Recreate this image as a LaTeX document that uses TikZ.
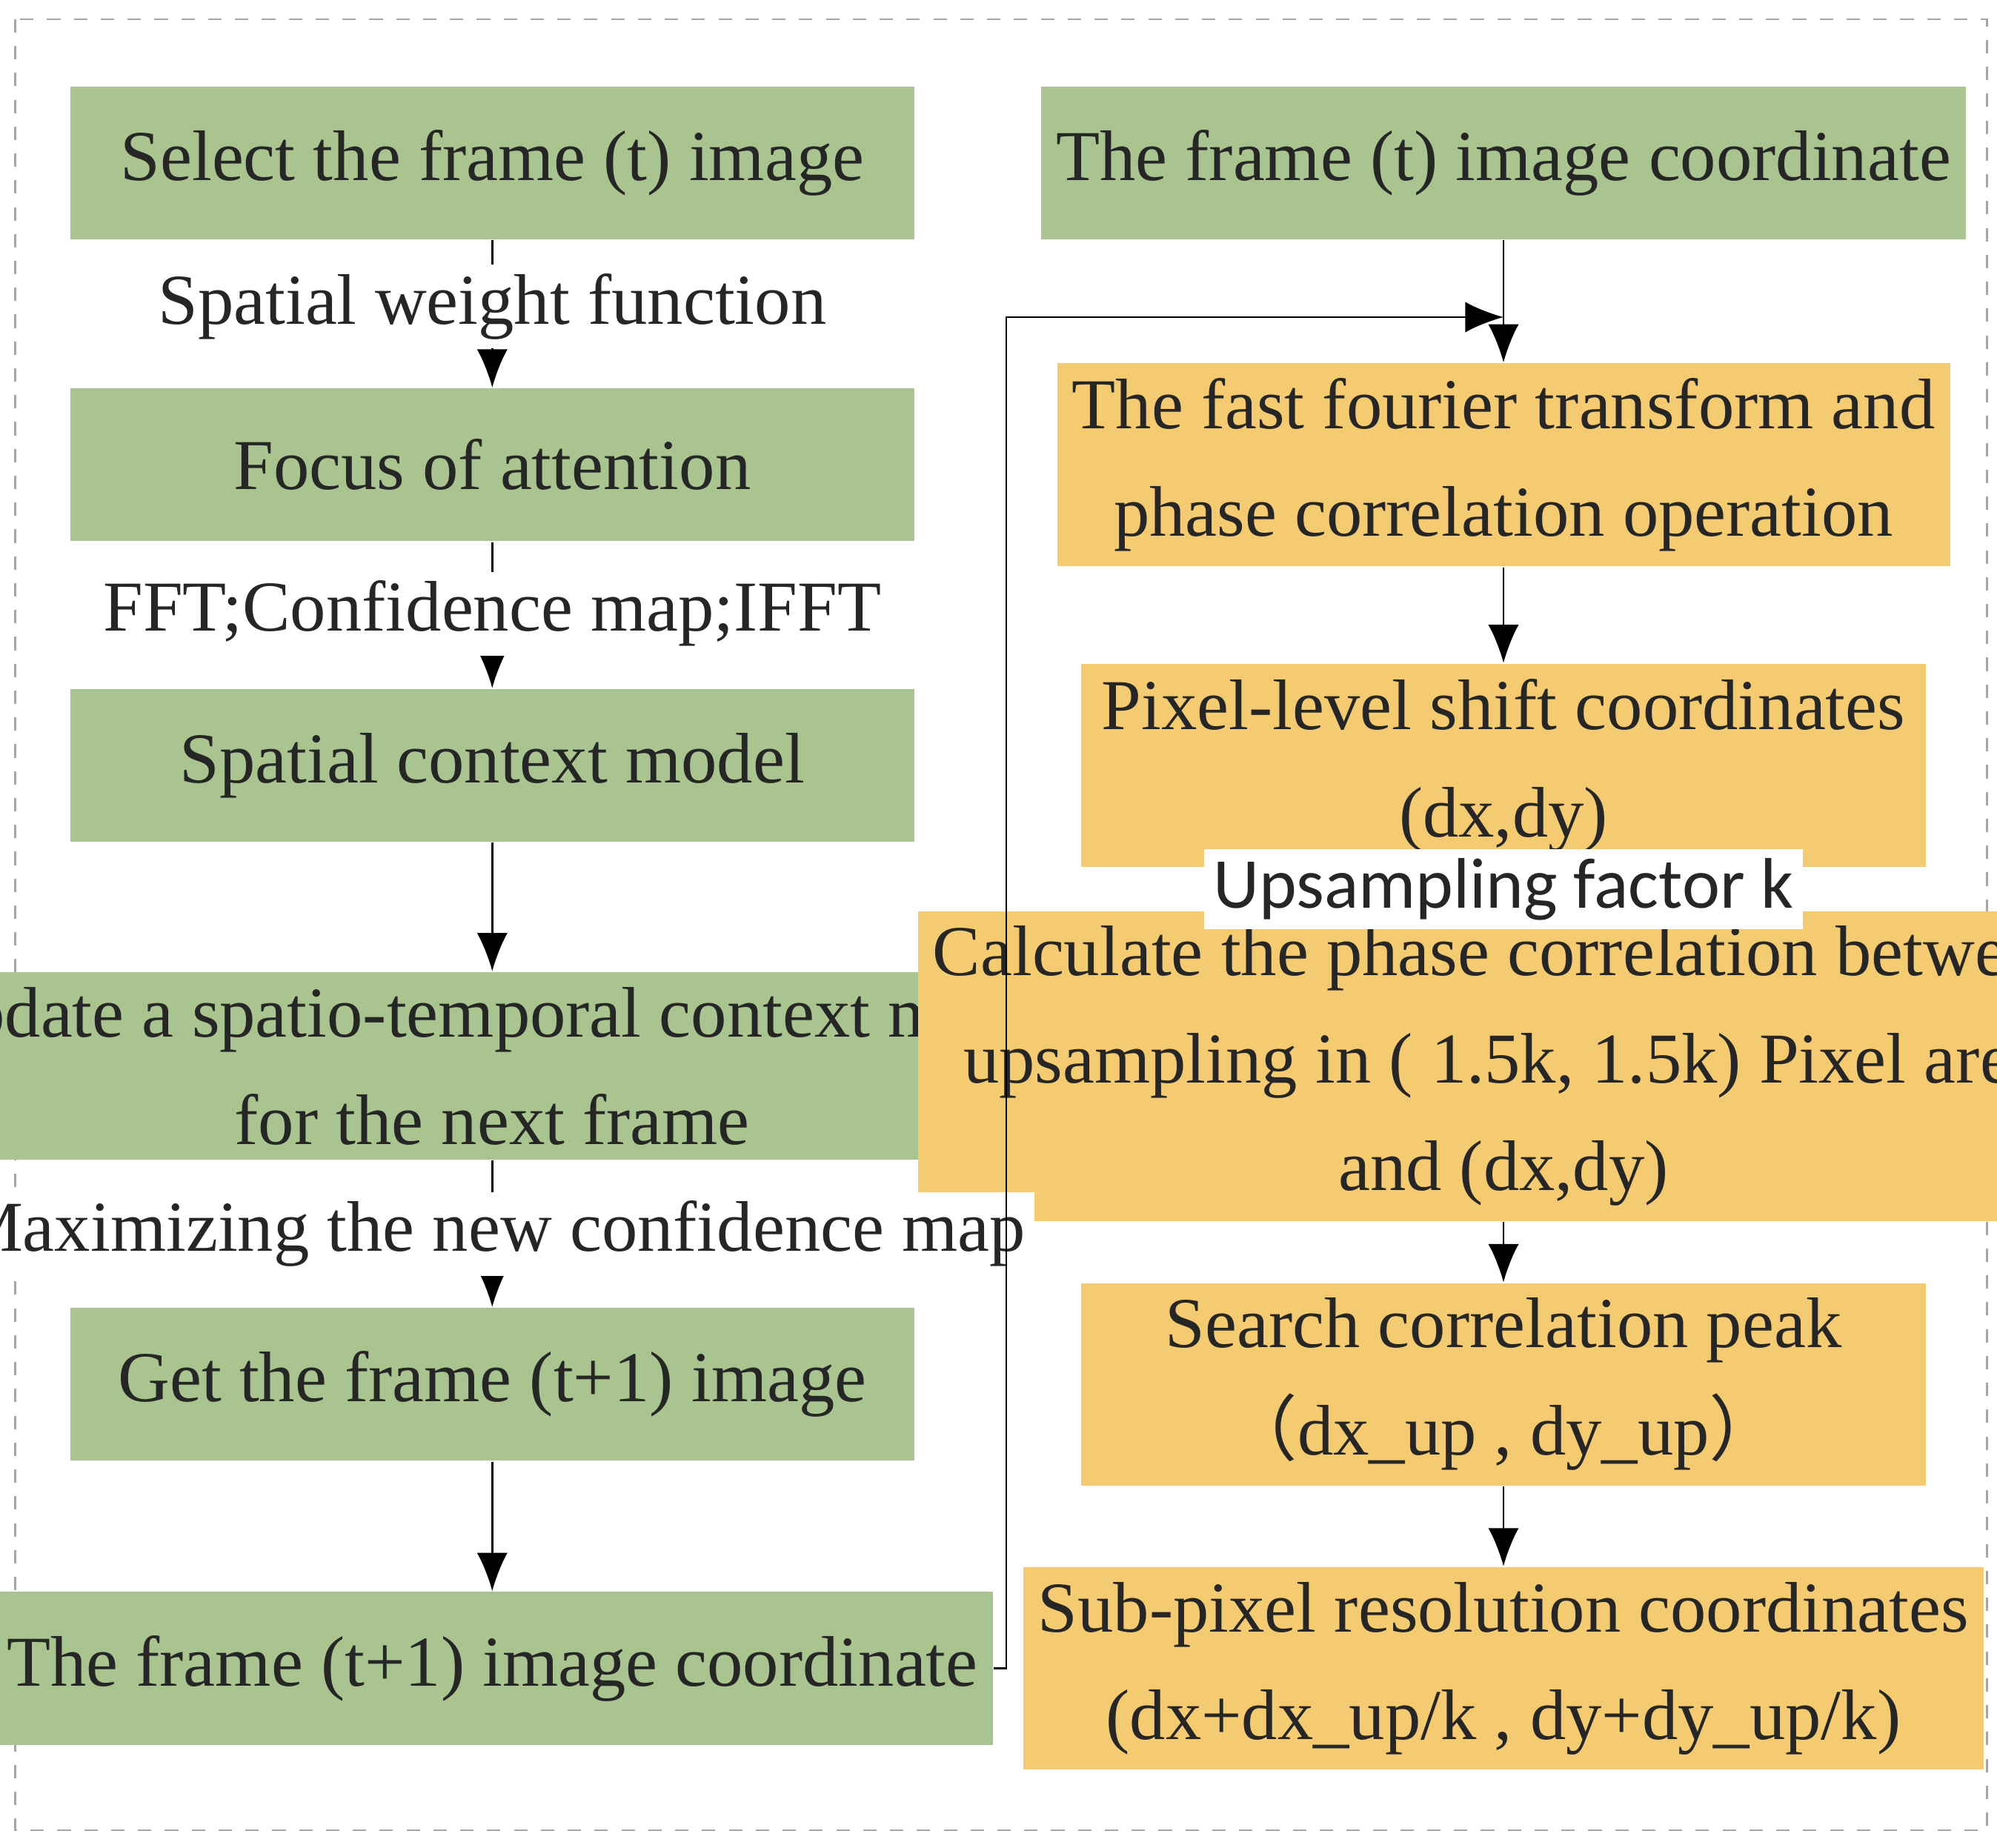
\documentclass[tikz,border=0pt]{standalone}
\usepackage{fontspec}
\setmainfont{Liberation Serif}
\newfontfamily\lblsans{Carlito}
\newfontfamily\cjkfont{Noto Sans CJK SC}
\usetikzlibrary{positioning,arrows.meta}
\definecolor{boxgreen}{HTML}{A9C48F}
\definecolor{boxorange}{HTML}{F5CB72}
\definecolor{txt}{HTML}{262626}

\begin{document}
\begin{tikzpicture}[
x=1cm,y=-1cm,
stepbox/.style={
  draw=none,
  minimum width=6.63cm,
  minimum height=1.2cm,
  align=center,
  text=txt,
  font=\fontsize{16}{24}\selectfont
  },
gbox/.style={stepbox,fill=boxgreen},
obox/.style={stepbox,fill=boxorange},
lbl/.style={fill=white,text=txt,inner sep=2pt,font=\fontsize{16}{19}\selectfont},
>={Latex[length=3mm,width=2.4mm]}
]
\useasboundingbox (0,0) rectangle (15.68,14.51);
\draw[gray!70,dashed] (0.12,0.15) rectangle (15.6,14.37);

% left column
\node[gbox] (sel) at (3.865,1.28) {Select the frame (t) image};
\node[gbox] (foc) at (3.865,3.65) {Focus of attention};
\node[gbox] (ctx) at (3.865,6.01) {Spatial context model};
\node[gbox] (upd) at (3.865,8.37) {Update a spatio-temporal context model\\for the next frame};
\node[gbox] (get) at (3.865,10.87) {Get the frame (t+1) image};
\node[gbox] (crd) at (3.865,13.10) {The frame (t+1) image coordinate};

% right column
\node[gbox] (tcd) at (11.805,1.28) {The frame (t) image coordinate};
\node[obox] (fft) at (11.805,3.65) {The fast fourier transform and\\phase correlation operation};
\node[obox] (pix) at (11.805,6.01) {Pixel-level shift coordinates\\(dx,dy)};
\node[obox,minimum height=1.6cm] (cal) at (11.805,8.37) {Calculate the phase correlation between\\upsampling in ( 1.5k, 1.5k) Pixel area\\and (dx,dy)};
\node[obox] (pk) at (11.805,10.87) {Search correlation peak\\{\cjkfont （}dx\_up , dy\_up{\cjkfont ）}};
\node[obox] (sub) at (11.805,13.10) {Sub-pixel resolution coordinates\\(dx+dx\_up/k , dy+dy\_up/k)};

\draw[->] (sel) -- node[lbl,pos=0.45] {Spatial weight function} (foc);
\draw[->] (foc) -- node[lbl,pos=0.49] {FFT;Confidence map;IFFT} (ctx);
\draw[->] (ctx) -- (upd);
\draw[->] (upd) -- node[lbl,pos=0.5] {Maximizing the new confidence map} (get);
\draw[->] (get) -- (crd);

\coordinate (join) at (11.805,2.49);
\draw[->] (tcd) -- (fft);
\draw[->] (crd.east) -| (7.9,2.49) -- (join);
\draw[->] (fft) -- (pix);
\draw[->] (pix) -- node[lbl,pos=0.5,font=\lblsans\fontsize{16}{19}\selectfont] {Upsampling factor k} (cal);
\draw[->] (cal) -- (pk);
\draw[->] (pk) -- (sub);
\end{tikzpicture}
\end{document}
